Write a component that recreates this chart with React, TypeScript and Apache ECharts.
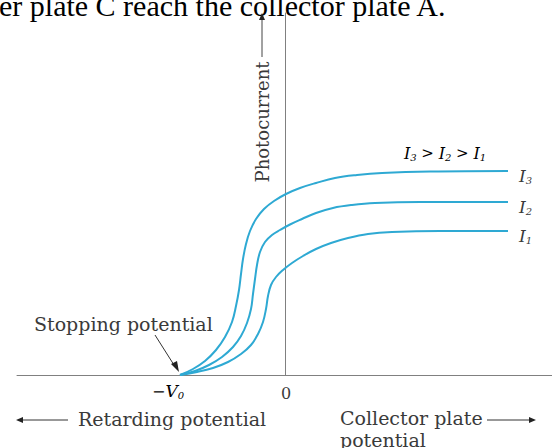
import React, { useEffect, useRef } from "react";
import * as echarts from "echarts";

// Curves: [collector potential (arb. units), photocurrent (arb. units)]
const curveI3: number[][] = [
  [-10.5, 0], [-9.2, 0.6], [-8, 1.4], [-6.9, 2.5], [-6, 3.8], [-5.3, 5.3], [-4.9, 6.9], [-4.6, 8.5],
  [-4.4, 10.1], [-4.2, 11.6], [-3.9, 13.1], [-3.5, 14.4], [-2.9, 15.6], [-2.1, 16.6], [-1.1, 17.4],
  [0.1, 18.1], [1.5, 18.7], [3.1, 19.2], [5, 19.7], [7.2, 20], [9.7, 20.2], [14.5, 20.35], [22.3, 20.4],
];
const curveI2: number[][] = [
  [-10.5, 0], [-9, 0.4], [-7.6, 1], [-6.3, 1.8], [-5.2, 2.8], [-4.4, 3.9], [-3.8, 5.2], [-3.4, 6.6],
  [-3.2, 8.1], [-3, 9.6], [-2.8, 11], [-2.5, 12.3], [-2, 13.3], [-1.3, 14], [-0.5, 14.5], [0.5, 15.05],
  [1.7, 15.6], [3.1, 16.2], [4.8, 16.7], [6.7, 17], [9, 17.2], [13.5, 17.3], [22.3, 17.3],
];
const curveI1: number[][] = [
  [-10.5, 0], [-8.8, 0.3], [-7.2, 0.7], [-5.7, 1.3], [-4.4, 2.1], [-3.4, 3], [-2.7, 4.1], [-2.2, 5.3],
  [-1.9, 6.6], [-1.7, 7.9], [-1.4, 9], [-0.9, 9.8], [-0.2, 10.5], [0.7, 11.2], [1.8, 11.9], [3.1, 12.6],
  [4.6, 13.2], [6.3, 13.7], [8.3, 14.1], [10.7, 14.3], [15.5, 14.4], [22.3, 14.4],
];
const seriesNames = ["I3", "I2", "I1"];
const seriesSubs = ["3", "2", "1"];
const xRange = [-26.8, 26.7];
const yRange = [0, 36.2];

const LINE_COLOR = "#2ea9d3";
const FONT = "DejaVu Serif";
const TEXT = "#3a3a3a";

export default function App() {
  const ref = useRef<HTMLDivElement>(null);
  useEffect(() => {
    document.body.style.margin = "0";
    if (!ref.current) return;
    const chart = echarts.init(ref.current, undefined, { renderer: "svg" });
    const curves = [curveI3, curveI2, curveI1];
    const sub = { fontFamily: FONT, fontSize: 10, fontStyle: "italic", color: TEXT, padding: [9, 0, 0, 0] };
    const ital = { fontFamily: FONT, fontSize: 17, fontStyle: "italic", color: TEXT };
    const series: any[] = curves.map((d, i) => ({
      name: seriesNames[i],
      type: "line",
      data: d,
      smooth: 0.4,
      showSymbol: false,
      symbol: "none",
      lineStyle: { color: LINE_COLOR, width: 2 },
      endLabel: {
        show: true,
        formatter: "{i|I}{s|" + seriesSubs[i] + "}",
        offset: [3, 5],
        rich: { i: ital, s: sub },
      },
    }));

    const arrowHead = (x: number, y: number, dir: "up" | "left" | "right") => {
      let pts: number[][] = [];
      if (dir === "up") pts = [[x, y], [x - 3, y + 7], [x + 3, y + 7]];
      if (dir === "left") pts = [[x, y], [x + 7, y - 3], [x + 7, y + 3]];
      if (dir === "right") pts = [[x, y], [x - 7, y - 3], [x - 7, y + 3]];
      return { type: "polygon", shape: { points: pts }, style: { fill: "#222" }, z: 10 };
    };

    const txt = (text: string, x: number, y: number, extra: any = {}) => ({
      type: "text",
      x,
      y,
      style: { text, fontFamily: FONT, fontSize: 19, fill: TEXT, ...extra },
      z: 10,
    });

    chart.setOption({
      animation: false,
      grid: { left: 17, right: 0, top: 13, bottom: 73 },
      xAxis: {
        type: "value",
        min: xRange[0],
        max: xRange[1],
        axisLine: { show: true, lineStyle: { color: "#808080", width: 1 } },
        axisTick: { show: false },
        axisLabel: { show: false },
        splitLine: { show: false },
      },
      yAxis: {
        type: "value",
        min: yRange[0],
        max: yRange[1],
        axisLine: { show: true, onZero: true, lineStyle: { color: "#808080", width: 1 } },
        axisTick: { show: false },
        axisLabel: { show: false },
        splitLine: { show: false },
      },
      series,
      graphic: [
        // top caption (cut off by the page edge, as in the source)
        txt("er plate C reach the collector plate A.", -1, 20, {
          fontFamily: "Liberation Serif",
          fontSize: 30,
          fill: "#000",
          verticalAlign: "bottom",
        }),
        // y axis label with arrow
        {
          type: "text",
          x: 262,
          y: 122,
          rotation: Math.PI / 2,
          style: { text: "Photocurrent", fontFamily: FONT, fontSize: 18, fill: TEXT, align: "center", verticalAlign: "middle" },
          z: 10,
        },
        { type: "line", shape: { x1: 262, y1: 57, x2: 262, y2: 18 }, style: { stroke: "#444", lineWidth: 1 }, z: 10 },
        arrowHead(262, 13, "up"),
        // ratio label
        {
          type: "text",
          x: 445,
          y: 153,
          style: {
            text: "{i|I}{s|3}{o| > }{i|I}{s|2}{o| > }{i|I}{s|1}",
            align: "center",
            verticalAlign: "middle",
            rich: { i: { ...ital, fontSize: 16 }, s: sub, o: { fontFamily: FONT, fontSize: 15, color: TEXT } },
          },
          z: 10,
        },
        // stopping potential
        txt("Stopping potential", 34, 324, { verticalAlign: "middle" }),
        { type: "line", shape: { x1: 155, y1: 335, x2: 174, y2: 365 }, style: { stroke: "#333", lineWidth: 1 }, z: 10 },
        {
          type: "polygon",
          shape: { points: [[179, 372], [171, 364], [177, 361]] },
          style: { fill: "#222" },
          z: 10,
        },
        // axis tick labels
        {
          type: "text",
          x: 168,
          y: 391,
          style: {
            text: "{o|−}{i|V}{s|0}",
            align: "center",
            verticalAlign: "middle",
            rich: { i: ital, s: sub, o: { fontFamily: FONT, fontSize: 16, color: TEXT } },
          },
          z: 10,
        },
        txt("0", 286, 393, { align: "center", verticalAlign: "middle", fontSize: 16 }),
        // bottom labels
        { type: "line", shape: { x1: 22, y1: 420, x2: 68, y2: 420 }, style: { stroke: "#333", lineWidth: 1 }, z: 10 },
        arrowHead(16, 420, "left"),
        txt("Retarding potential", 78, 419, { verticalAlign: "middle" }),
        txt("Collector plate", 340, 418, { verticalAlign: "middle" }),
        { type: "line", shape: { x1: 487, y1: 420, x2: 530, y2: 420 }, style: { stroke: "#333", lineWidth: 1 }, z: 10 },
        arrowHead(536, 420, "right"),
        txt("potential", 340, 440, { verticalAlign: "middle" }),
      ],
    });
    return () => chart.dispose();
  }, []);
  return <div ref={ref} style={{ width: 552, height: 448 }} />;
}
